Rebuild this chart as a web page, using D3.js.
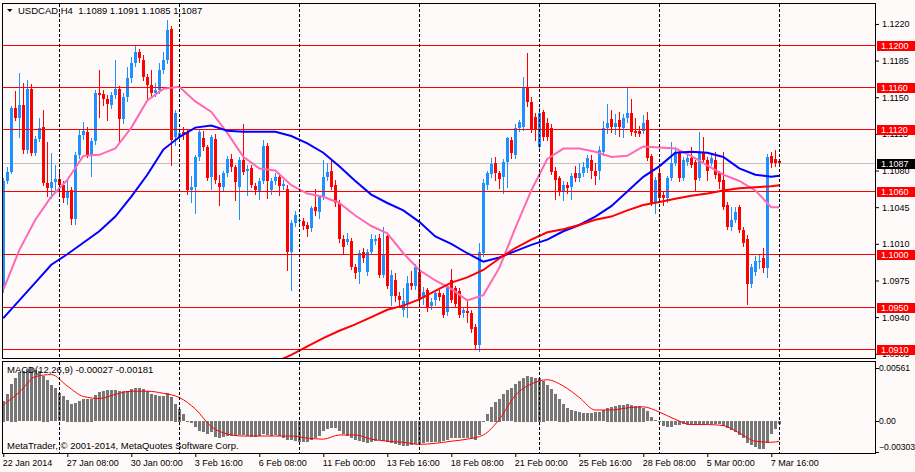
<!DOCTYPE html>
<html>
<head>
<meta charset="utf-8">
<script src="https://cdn.jsdelivr.net/npm/d3@7"></script>
<style>
html, body { margin: 0; padding: 0; background: #fffafa; }
svg { display: block; font-family: "Liberation Sans", Arial, sans-serif; }
</style>
</head>
<body>
<div id="chart"></div>
<script>
// USDCAD H4 candles, bar 0 = 22 Jan 2014 16:00, last bar = 10 Mar 00:00
const barOpen = [
  1.0970,1.1070,1.1079,1.1140,1.1130,1.1143,1.1100,1.1158,1.1097,1.1110,
  1.1122,1.1068,1.1063,1.1069,1.1072,1.1066,1.1054,1.1061,1.1034,1.1095,
  1.1114,1.1117,1.1095,1.1108,1.1154,1.1153,1.1148,1.1143,1.1152,1.1158,
  1.1129,1.1150,1.1168,1.1183,1.1193,1.1186,1.1169,1.1162,1.1154,1.1157,
  1.1176,1.1186,1.1215,1.1112,1.1112,1.1117,1.1117,1.1061,1.1064,1.1093,
  1.1111,1.1102,1.1074,1.1110,1.1068,1.1064,1.1078,1.1091,1.1083,1.1064,
  1.1090,1.1080,1.1082,1.1065,1.1060,1.1070,1.1103,1.1061,1.1070,1.1074,
  1.1065,1.1062,1.1002,1.1030,1.1032,1.1032,1.1028,1.1025,1.1045,1.1040,
  1.1055,1.1074,1.1080,1.1066,1.1049,1.1015,1.1012,1.1013,1.0988,1.0983,
  1.1002,1.0983,1.1002,1.1013,1.1016,1.0980,1.1017,1.0960,1.0975,1.0960,
  1.0947,1.0953,1.0973,1.0970,1.0983,1.0958,1.0966,1.0951,1.0956,1.0963,
  1.0961,1.0945,1.0975,1.0968,1.0965,1.0944,1.0946,1.0944,1.0931,1.0913,
  1.1001,1.1066,1.1077,1.1087,1.1078,1.1074,1.1088,1.1109,1.1095,1.1121,
  1.1122,1.1159,1.1145,1.1131,1.1102,1.1136,1.1125,1.1121,1.1080,1.1073,
  1.1060,1.1066,1.1064,1.1078,1.1073,1.1078,1.1082,1.1090,1.1080,1.1080,
  1.1098,1.1121,1.1129,1.1122,1.1128,1.1121,1.1130,1.1135,1.1118,1.1118,
  1.1118,1.1128,1.1094,1.1049,1.1078,1.1057,1.1054,1.1073,1.1087,1.1098,
  1.1073,1.1088,1.1092,1.1088,1.1073,1.1098,1.1090,1.1087,1.1090,1.1078,
  1.1071,1.1047,1.1026,1.1033,1.1045,1.1023,1.1015,1.0972,1.0983,1.0993,
  1.0996,1.0987,1.1094,1.1091,1.1089
];
const barHigh = [
  1.1073,1.1083,1.1142,1.1156,1.1173,1.1164,1.1166,1.1163,1.1113,1.1130,
  1.1138,1.1107,1.1097,1.1085,1.1080,1.1070,1.1071,1.1064,1.1098,1.1120,
  1.1126,1.1122,1.1111,1.1157,1.1176,1.1157,1.1152,1.1155,1.1186,1.1161,
  1.1154,1.1179,1.1188,1.1199,1.1196,1.1190,1.1172,1.1176,1.1164,1.1183,
  1.1193,1.1224,1.1218,1.1138,1.1120,1.1122,1.1120,1.1075,1.1095,1.1119,
  1.1118,1.1104,1.1114,1.1115,1.1076,1.1080,1.1094,1.1096,1.1085,1.1093,
  1.1124,1.1085,1.1085,1.1068,1.1073,1.1109,1.1106,1.1073,1.1078,1.1078,
  1.1071,1.1066,1.1033,1.1041,1.1035,1.1035,1.1031,1.1046,1.1062,1.1057,
  1.1090,1.1087,1.1090,1.1071,1.1052,1.1018,1.1020,1.1016,1.0991,1.1004,
  1.1006,1.1005,1.1019,1.1018,1.1019,1.1026,1.1020,1.0985,1.0982,1.0964,
  1.0968,1.0979,1.0984,1.0991,1.0993,1.0969,1.0968,1.0958,1.0966,1.0966,
  1.0963,1.0972,1.0986,1.0970,1.0968,1.0950,1.0957,1.0947,1.0933,1.1011,
  1.1072,1.1080,1.1092,1.1093,1.1080,1.1091,1.1112,1.1112,1.1124,1.1128,
  1.1169,1.1192,1.1150,1.1135,1.1140,1.1138,1.1130,1.1124,1.1083,1.1075,
  1.1070,1.1069,1.1078,1.1084,1.1087,1.1088,1.1095,1.1095,1.1087,1.1103,
  1.1127,1.1144,1.1138,1.1134,1.1136,1.1134,1.1159,1.1148,1.1130,1.1123,
  1.1133,1.1136,1.1096,1.1074,1.1082,1.1060,1.1075,1.1107,1.1102,1.1100,
  1.1093,1.1097,1.1102,1.1090,1.1117,1.1112,1.1093,1.1096,1.1098,1.1080,
  1.1098,1.1050,1.1045,1.1045,1.1047,1.1026,1.1018,1.0991,1.0998,1.1000,
  1.1006,1.1096,1.1098,1.1100,1.1091
];
const barLow = [
  1.0964,1.1068,1.1078,1.1128,1.1112,1.1097,1.1097,1.1095,1.1095,1.1108,
  1.1066,1.1056,1.1054,1.1060,1.1058,1.1050,1.1048,1.1029,1.1029,1.1092,
  1.1110,1.1093,1.1075,1.1105,1.1131,1.1143,1.1128,1.1140,1.1149,1.1107,
  1.1125,1.1146,1.1165,1.1180,1.1184,1.1166,1.1147,1.1151,1.1151,1.1154,
  1.1173,1.1183,1.1085,1.1104,1.1108,1.1110,1.1058,1.1050,1.1039,1.1090,
  1.1100,1.1071,1.1062,1.1068,1.1047,1.1060,1.1075,1.1080,1.1052,1.1034,
  1.1077,1.1057,1.1064,1.1058,1.1053,1.1068,1.1054,1.1058,1.1067,1.1057,
  1.1062,1.0985,1.0966,1.1027,1.1030,1.1024,1.1017,1.1022,1.1038,1.1035,
  1.1053,1.1071,1.1062,1.1046,1.1012,1.1001,1.1010,1.0986,1.0977,1.0973,
  1.0993,1.0980,1.1000,1.1010,1.0978,1.0978,1.0968,1.0952,1.0955,1.0950,
  1.0941,1.0940,1.0967,1.0967,1.0953,1.0953,1.0946,1.0948,1.0952,1.0956,
  1.0940,1.0942,1.0954,1.0950,1.0940,1.0940,1.0935,1.0926,1.0910,1.0908,
  1.0998,1.1062,1.1074,1.1071,1.1063,1.1059,1.1064,1.1092,1.1092,1.1118,
  1.1119,1.1142,1.1117,1.1109,1.1100,1.1109,1.1109,1.1077,1.1053,1.1057,
  1.1052,1.1059,1.1053,1.1070,1.1070,1.1075,1.1079,1.1073,1.1067,1.1072,
  1.1095,1.1116,1.1117,1.1115,1.1113,1.1112,1.1126,1.1114,1.1113,1.1113,
  1.1116,1.1090,1.1047,1.1039,1.1051,1.1047,1.1050,1.1071,1.1085,1.1070,
  1.1071,1.1085,1.1083,1.1061,1.1071,1.1088,1.1071,1.1085,1.1073,1.1063,
  1.1043,1.1024,1.1023,1.1031,1.1021,1.1008,1.0953,1.0969,1.0980,1.0987,
  1.0983,1.0978,1.1083,1.1084,1.1085
];
const barClose = [
  1.1070,1.1079,1.1140,1.1130,1.1143,1.1100,1.1158,1.1097,1.1110,1.1121,
  1.1068,1.1063,1.1069,1.1072,1.1066,1.1054,1.1060,1.1034,1.1095,1.1114,
  1.1118,1.1095,1.1108,1.1154,1.1152,1.1148,1.1144,1.1152,1.1158,1.1129,
  1.1150,1.1168,1.1183,1.1193,1.1187,1.1169,1.1162,1.1154,1.1157,1.1176,
  1.1186,1.1214,1.1109,1.1135,1.1116,1.1114,1.1061,1.1064,1.1093,1.1117,
  1.1102,1.1073,1.1112,1.1071,1.1064,1.1078,1.1091,1.1083,1.1069,1.1090,
  1.1079,1.1081,1.1066,1.1061,1.1070,1.1103,1.1070,1.1070,1.1074,1.1065,
  1.1067,1.1002,1.1030,1.1038,1.1033,1.1027,1.1024,1.1044,1.1041,1.1055,
  1.1074,1.1079,1.1064,1.1049,1.1015,1.1007,1.1015,1.0988,1.0982,1.1001,
  1.0996,1.1002,1.1015,1.1015,1.0980,1.0999,1.0970,1.0980,1.0960,1.0956,
  1.0955,1.0973,1.0970,1.0988,1.0956,1.0964,1.0949,1.0954,1.0963,1.0959,
  1.0942,1.0970,1.0956,1.0953,1.0942,1.0947,1.0944,1.0929,1.0913,1.1002,
  1.1068,1.1078,1.1086,1.1078,1.1072,1.1088,1.1111,1.1097,1.1121,1.1126,
  1.1159,1.1145,1.1120,1.1120,1.1135,1.1112,1.1112,1.1079,1.1071,1.1060,
  1.1066,1.1063,1.1075,1.1073,1.1078,1.1083,1.1092,1.1080,1.1075,1.1100,
  1.1121,1.1125,1.1122,1.1125,1.1122,1.1130,1.1135,1.1117,1.1116,1.1115,
  1.1125,1.1092,1.1049,1.1071,1.1054,1.1054,1.1073,1.1087,1.1098,1.1073,
  1.1090,1.1092,1.1085,1.1071,1.1098,1.1090,1.1080,1.1092,1.1076,1.1069,
  1.1045,1.1026,1.1033,1.1040,1.1023,1.1011,1.0972,1.0988,1.0994,1.0994,
  1.0987,1.1093,1.1087,1.1087,1.1087
];

// moving averages, read every 4th bar (bars 0,4,...,192 and 194)
const maPink = [
  1.0966,1.1004,1.1033,1.1055,1.1071,1.1094,1.1095,1.1101,1.1121,1.1147,
  1.1158,1.1160,1.1146,1.1136,1.1116,1.1093,1.1082,1.1080,1.1066,1.1058,
  1.1055,1.1049,1.1037,1.1027,1.1020,1.1001,1.0985,1.0975,1.0967,1.0956,
  1.0961,1.0987,1.1025,1.1061,1.1091,1.1101,1.1101,1.1098,1.1093,1.1094,
  1.1103,1.1102,1.1101,1.1094,1.1085,1.1076,1.1070,1.1061,1.1045,1.1045
];
const maBlue = [
  1.0939,1.0956,1.0973,1.0990,1.1000,1.1011,1.1022,1.1036,1.1055,1.1076,
  1.1100,1.1112,1.1121,1.1123,1.1118,1.1117,1.1117,1.1117,1.1113,1.1106,
  1.1097,1.1084,1.1070,1.1057,1.1049,1.1042,1.1031,1.1017,1.1010,1.1001,
  1.0993,1.0997,1.1003,1.1009,1.1014,1.1022,1.1028,1.1036,1.1046,1.1060,
  1.1074,1.1084,1.1097,1.1098,1.1097,1.1093,1.1082,1.1076,1.1074,1.1075
];
const maRed = [
  1.0897,1.0904,1.0912,1.0920,1.0927,1.0933,1.0940,1.0947,1.0951,1.0957,
  1.0965,1.0973,1.0978,1.0985,1.0996,1.1006,1.1014,1.1021,1.1024,1.1028,
  1.1033,1.1036,1.1042,1.1047,1.1050,1.1053,1.1056,1.1058,1.1061,1.1063,
  1.1064,1.1065,1.1066
];

// MACD(12,26,9) histogram per bar, signal every 4th bar
const macdHist = [
  0.0020,0.0026,0.0036,0.0042,0.0047,0.0048,0.0050,0.0051,0.0049,0.0048,
  0.0044,0.0040,0.0035,0.0032,0.0027,0.0024,0.0021,0.0017,0.0018,0.0020,
  0.0022,0.0022,0.0022,0.0025,0.0028,0.0029,0.0030,0.0030,0.0030,0.0029,
  0.0029,0.0029,0.0031,0.0032,0.0032,0.0031,0.0029,0.0026,0.0025,0.0024,
  0.0024,0.0027,0.0023,0.0017,0.0012,0.0007,0.0000,-0.0002,-0.0006,-0.0010,
  -0.0011,-0.0012,-0.0011,-0.0015,-0.0016,-0.0015,-0.0014,-0.0014,-0.0014,-0.0013,
  -0.0013,-0.0014,-0.0015,-0.0015,-0.0014,-0.0012,-0.0013,-0.0014,-0.0013,-0.0014,
  -0.0016,-0.0018,-0.0018,-0.0019,-0.0020,-0.0020,-0.0020,-0.0018,-0.0016,-0.0014,
  -0.0010,-0.0008,-0.0007,-0.0007,-0.0010,-0.0012,-0.0014,-0.0016,-0.0018,-0.0019,
  -0.0020,-0.0021,-0.0020,-0.0019,-0.0018,-0.0019,-0.0020,-0.0021,-0.0022,-0.0023,
  -0.0024,-0.0024,-0.0023,-0.0022,-0.0022,-0.0021,-0.0020,-0.0020,-0.0020,-0.0020,
  -0.0019,-0.0018,-0.0016,-0.0016,-0.0016,-0.0016,-0.0016,-0.0017,-0.0018,-0.0013,
  -0.0001,0.0007,0.0014,0.0019,0.0022,0.0026,0.0030,0.0032,0.0036,0.0039,
  0.0042,0.0044,0.0043,0.0042,0.0042,0.0039,0.0035,0.0031,0.0026,0.0022,
  0.0017,0.0013,0.0011,0.0010,0.0009,0.0008,0.0008,0.0008,0.0009,0.0009,
  0.0011,0.0013,0.0014,0.0015,0.0016,0.0016,0.0017,0.0016,0.0015,0.0015,
  0.0013,0.0010,0.0004,0.0001,-0.0001,-0.0005,-0.0006,-0.0006,-0.0004,-0.0004,
  -0.0003,-0.0004,-0.0004,-0.0004,-0.0003,-0.0003,-0.0003,-0.0003,-0.0003,-0.0003,
  -0.0005,-0.0007,-0.0009,-0.0011,-0.0013,-0.0016,-0.0021,-0.0023,-0.0025,-0.0027,
  -0.0027,-0.0021,-0.0012,-0.0008,-0.0003
];
const macdSignal = [
  0.0016,0.0028,0.0043,0.0045,0.0034,0.0024,0.0022,0.0026,0.0029,0.0029,
  0.0027,0.0023,0.0012,-0.0005,-0.0012,-0.0014,-0.0014,-0.0014,-0.0014,-0.0016,
  -0.0017,-0.0013,-0.0013,-0.0017,-0.0019,-0.0020,-0.0022,-0.0021,-0.0019,-0.0017,
  -0.0013,0.0002,0.0025,0.0036,0.0040,0.0034,0.0023,0.0011,0.0011,0.0013,
  0.0014,0.0009,0.0002,-0.0003,-0.0003,-0.0004,-0.0011,-0.0019,-0.0020,-0.0019
];

// horizontal levels, axis ticks, time labels
const levels = [1.1200, 1.1160, 1.1120, 1.1060, 1.1000, 1.0950, 1.0910];
const lastPrice = 1.1087;
const priceTicks = [1.1220, 1.1185, 1.1150, 1.1115, 1.1080, 1.1045, 1.1010, 1.0975, 1.0940, 1.0905];
const macdTicks = [0.00561, 0, -0.00303];
const timeBars = [0, 16, 32, 48, 64, 80, 96, 112, 128, 144, 160, 176, 192];
const timeLabels = ["22 Jan 2014", "27 Jan 08:00", "30 Jan 00:00", "3 Feb 16:00", "6 Feb 08:00",
  "11 Feb 00:00", "13 Feb 16:00", "18 Feb 08:00", "21 Feb 00:00", "25 Feb 16:00",
  "28 Feb 08:00", "5 Mar 00:00", "7 Mar 16:00"];
const weekBars = [14, 44, 74, 104, 134, 164, 194];

const width = 915, height = 472;
const nBars = barClose.length;
const bars = d3.range(nBars).map(i => ({
  i, o: barOpen[i], h: barHigh[i], l: barLow[i], c: barClose[i]
}));
const sampleIdx = d3.range(0, nBars - 1, 4).concat([nBars - 1]);
const redIdx = sampleIdx.filter(i => i >= 68);

const svg = d3.select("#chart").append("svg")
  .attr("width", width)
  .attr("height", height);

svg.append("rect").attr("width", width).attr("height", height).attr("fill", "#fffafa");

// scales: bar index -> x, price -> y, macd -> y
const x = d3.scaleLinear().domain([0, nBars - 1]).range([3.3, 779.3]);
const y = d3.scaleLinear().domain([1.0900, 1.1240]).range([359, 3]);
const ym = d3.scaleLinear().domain([-0.00303, 0.00561]).range([453, 363]);
const px = i => Math.round(x(i));

const defs = svg.append("defs");
defs.append("clipPath").attr("id", "clipMain")
  .append("rect").attr("x", 3).attr("y", 4).attr("width", 872).attr("height", 354);
defs.append("clipPath").attr("id", "clipSub")
  .append("rect").attr("x", 3).attr("y", 362).attr("width", 872).attr("height", 91);

const gMain = svg.append("g").attr("clip-path", "url(#clipMain)");
const gSub = svg.append("g").attr("clip-path", "url(#clipSub)");

// weekly separators
[[3.5, 358.5], [361.5, 453.5]].forEach(([y1, y2]) => {
  svg.append("g").selectAll("line")
    .data(weekBars)
    .join("line")
    .attr("x1", d => px(d) + 0.5).attr("x2", d => px(d) + 0.5)
    .attr("y1", y1).attr("y2", y2)
    .attr("stroke", "#000")
    .attr("stroke-dasharray", "3,2")
    .attr("shape-rendering", "crispEdges");
});

// current price line
gMain.append("line")
  .attr("x1", 3).attr("x2", 875)
  .attr("y1", Math.round(y(lastPrice)) + 0.5).attr("y2", Math.round(y(lastPrice)) + 0.5)
  .attr("stroke", "#c0c0c0")
  .attr("shape-rendering", "crispEdges");

// candles
const candle = gMain.append("g").selectAll("g")
  .data(bars)
  .join("g")
  .attr("shape-rendering", "crispEdges");
candle.append("line")
  .attr("x1", d => px(d.i) + 0.5).attr("x2", d => px(d.i) + 0.5)
  .attr("y1", d => Math.round(y(d.h))).attr("y2", d => Math.round(y(d.l)) + 1)
  .attr("stroke", d => d.c >= d.o ? "#1e90ff" : "#ff0000");
candle.append("rect")
  .attr("x", d => px(d.i) - 1)
  .attr("width", 3)
  .attr("y", d => Math.round(y(Math.max(d.o, d.c))))
  .attr("height", d => Math.max(1, Math.round(y(Math.min(d.o, d.c))) - Math.round(y(Math.max(d.o, d.c)))))
  .attr("fill", d => d.c >= d.o ? "#1e90ff" : "#ff0000");

// horizontal level lines
gMain.append("g").selectAll("line")
  .data(levels)
  .join("line")
  .attr("x1", 3).attr("x2", 875)
  .attr("y1", d => Math.round(y(d)) + 0.5).attr("y2", d => Math.round(y(d)) + 0.5)
  .attr("stroke", "#ff0000")
  .attr("stroke-width", 1)
  .attr("shape-rendering", "crispEdges");

// moving averages
const maLine = d3.line().x(d => x(d.i)).y(d => y(d.v));
const maSeries = [
  { idx: sampleIdx, vals: maPink, color: "#ff69b4" },
  { idx: sampleIdx, vals: maBlue, color: "#0000ff" },
  { idx: redIdx, vals: maRed, color: "#ff0000" }
];
maSeries.forEach(s => {
  gMain.append("path")
    .datum(s.idx.map((i, k) => ({ i, v: s.vals[k] })))
    .attr("d", maLine)
    .attr("fill", "none")
    .attr("stroke", s.color)
    .attr("stroke-width", 2);
});

// MACD histogram and signal
gSub.append("g").selectAll("rect")
  .data(macdHist.map((v, i) => ({ i, v })))
  .join("rect")
  .attr("x", d => px(d.i) - 1)
  .attr("width", 3)
  .attr("y", d => Math.round(Math.min(ym(0), ym(d.v))))
  .attr("height", d => Math.max(1, Math.round(Math.abs(ym(d.v) - ym(0)))))
  .attr("fill", "#777777")
  .attr("shape-rendering", "crispEdges");

gSub.append("path")
  .datum(sampleIdx.map((i, k) => ({ i, v: macdSignal[k] })))
  .attr("d", d3.line().x(d => x(d.i)).y(d => ym(d.v)).curve(d3.curveMonotoneX))
  .attr("fill", "none")
  .attr("stroke", "#ff0000")
  .attr("stroke-width", 1);

// pane borders
svg.append("rect").attr("x", 2.5).attr("y", 3.5).attr("width", 873).attr("height", 355)
  .attr("fill", "none").attr("stroke", "#000").attr("shape-rendering", "crispEdges");
svg.append("rect").attr("x", 2.5).attr("y", 361.5).attr("width", 873).attr("height", 92)
  .attr("fill", "none").attr("stroke", "#000").attr("shape-rendering", "crispEdges");

// price axis
const axisPrice = d3.axisRight(y)
  .tickValues(priceTicks)
  .tickFormat(d3.format(".4f"))
  .tickSize(3)
  .tickPadding(3);
const gPrice = svg.append("g").attr("transform", "translate(876,0)").call(axisPrice);
gPrice.select(".domain").remove();
gPrice.attr("font-size", 9).attr("font-family", null);
gPrice.selectAll("line").attr("stroke", "#000");
gPrice.selectAll("text").attr("fill", "#000");

// level labels on the price axis (they cover the nearby tick labels, as in the terminal)
const tagData = levels.map(v => ({ v, bg: "#ff0000" })).concat([{ v: lastPrice, bg: "#000000" }]);
const tag = svg.append("g").selectAll("g")
  .data(tagData)
  .join("g")
  .attr("transform", d => `translate(876,${Math.round(y(d.v))})`);
tag.append("rect")
  .attr("x", 1).attr("y", -4.5).attr("width", 39).attr("height", 10)
  .attr("fill", d => d.bg)
  .attr("shape-rendering", "crispEdges");
tag.append("text")
  .attr("x", 5).attr("y", 0.5).attr("dy", "0.35em")
  .attr("font-size", 9)
  .attr("fill", "#fff")
  .text(d => d3.format(".4f")(d.v));

// MACD axis (extreme labels are kept inside the pane)
const macdFmt = d => d === 0 ? "0.00" : d3.format(".5f")(d);
const gMacdAxis = svg.append("g").selectAll("g")
  .data(macdTicks)
  .join("g");
gMacdAxis.append("line")
  .attr("x1", 876).attr("x2", 879)
  .attr("y1", d => Math.round(Math.min(Math.max(ym(d), 368), 452)) + 0.5)
  .attr("y2", d => Math.round(Math.min(Math.max(ym(d), 368), 452)) + 0.5)
  .attr("stroke", "#000")
  .attr("shape-rendering", "crispEdges");
gMacdAxis.append("text")
  .attr("x", 879)
  .attr("y", d => Math.min(Math.max(ym(d), 368), 447))
  .attr("dy", "0.35em")
  .attr("font-size", 8.6)
  .text(macdFmt);

// time axis
const axisTime = d3.axisBottom(x)
  .tickValues(timeBars)
  .tickFormat((d, k) => timeLabels[k])
  .tickSize(3)
  .tickPadding(3);
const gTime = svg.append("g").attr("transform", "translate(0,454)").call(axisTime);
gTime.select(".domain").remove();
gTime.attr("font-size", 9).attr("font-family", null);
gTime.selectAll("line").attr("stroke", "#000");
gTime.selectAll("text").attr("text-anchor", "start").attr("dx", -1).attr("fill", "#000");

// header and pane captions
svg.append("path").attr("d", "M7,9L12.5,9L9.75,12Z").attr("fill", "#000");
svg.append("text")
  .attr("x", 18).attr("y", 14)
  .attr("font-size", 9.5)
  .style("white-space", "pre")
  .text("USDCAD,H4  1.1089 1.1091 1.1085 1.1087");
svg.append("text")
  .attr("x", 7).attr("y", 373)
  .attr("font-size", 9.5)
  .text("MACD(12,26,9) -0.00027 -0.00181");
svg.append("text")
  .attr("x", 7).attr("y", 449)
  .attr("font-size", 9.5)
  .text("MetaTrader, \u00a9 2001-2014, MetaQuotes Software Corp.");
</script>
</body>
</html>
